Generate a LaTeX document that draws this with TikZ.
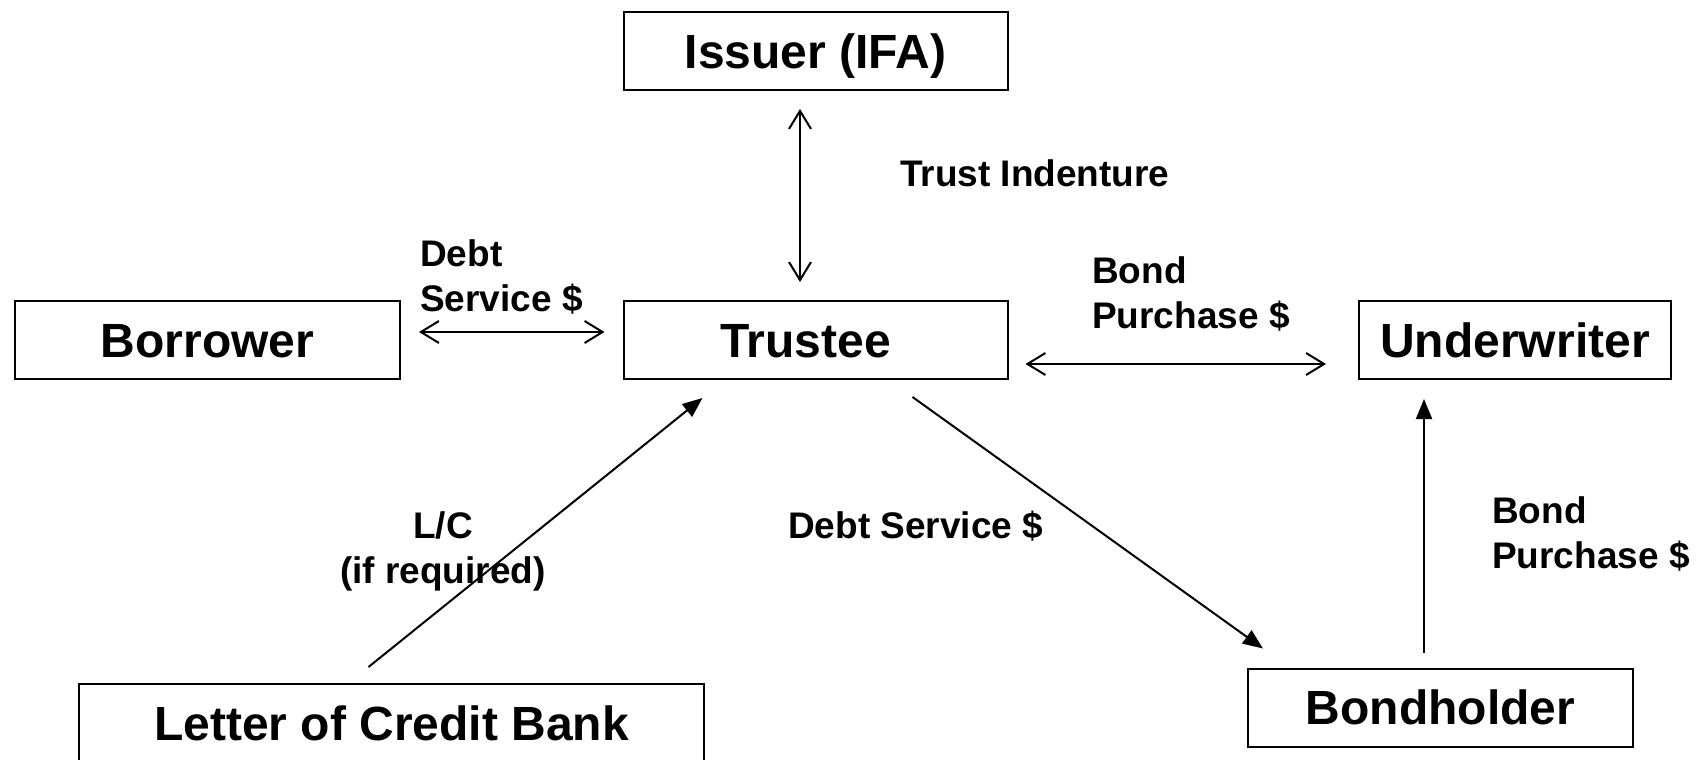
\documentclass[tikz,border=0pt]{standalone}
\usepackage{fontspec}
\setmainfont{Liberation Sans}
\usetikzlibrary{arrows.meta}
\begin{document}
\begin{tikzpicture}[x=1pt,y=-1pt,
  box/.style={draw=black, line width=2pt, minimum height=78pt, inner sep=0pt,
    font=\fontsize{48}{56}\selectfont\bfseries, text height=34.4pt, text depth=0pt},
  lbl/.style={inner sep=0pt, font=\fontsize{37}{44.5}\selectfont\bfseries, align=left},
  dbl/.style={line width=2pt, {Straight Barb[length=18pt,width=22pt]}-{Straight Barb[length=18pt,width=22pt]}},
  one/.style={line width=2pt, -{Triangle[length=20pt,width=16pt]}}]
\useasboundingbox (0,0) rectangle (1706,760);
\fill[white] (0,0) rectangle (1706,760);
\node[box, minimum width=384pt] (I) at (815.5,51) {Issuer (IFA)};
\node[box, minimum width=384pt] (T) at (815.5,340) {\hspace*{-20pt}Trustee};
\node[box, minimum width=385pt] (B) at (207.5,340) {Borrower};
\node[box, minimum width=312pt] (U) at (1515,340) {Underwriter};
\node[box, minimum width=625pt, minimum height=79pt] (L) at (391.5,723.5) {Letter of Credit Bank};
\node[box, minimum width=385pt] (H) at (1440.5,707.5) {Bondholder};
\draw[dbl] ([xshift=-15.5pt,yshift=-18pt]I.south) -- ([xshift=-15.5pt,yshift=18pt]T.north);
\draw[dbl] ([xshift=18pt,yshift=8pt]B.east) -- ([xshift=-18pt,yshift=8pt]T.west);
\draw[dbl] ([xshift=17pt,yshift=-24pt]T.east) -- ([xshift=-32pt,yshift=-24pt]U.west);
\draw[one] ([xshift=-23pt,yshift=16pt]L.north) -- ([xshift=-113pt,yshift=-18pt]T.south);
\draw[one] ([xshift=97pt,yshift=-17pt]T.south) -- ([xshift=-177.5pt,yshift=19pt]H.north);
\draw[one] ([xshift=-16.5pt,yshift=15pt]H.north) -- ([xshift=-91pt,yshift=-19pt]U.south);
\node[lbl, anchor=base west] (ti) at (900,186) {Trust Indenture};
\node[lbl, anchor=base west] (ds1) at (420,311) {Debt\\Service \$};
\node[lbl, anchor=base west] (bp1) at (1092,328) {Bond\\Purchase \$};
\node[lbl, align=center, anchor=base] (lc) at (443,583) {L/C\\(if required)};
\node[lbl, anchor=base west] (ds2) at (788,538) {Debt Service \$};
\node[lbl, anchor=base west] (bp2) at (1492,568) {Bond\\Purchase \$};
\end{tikzpicture}
\end{document}
